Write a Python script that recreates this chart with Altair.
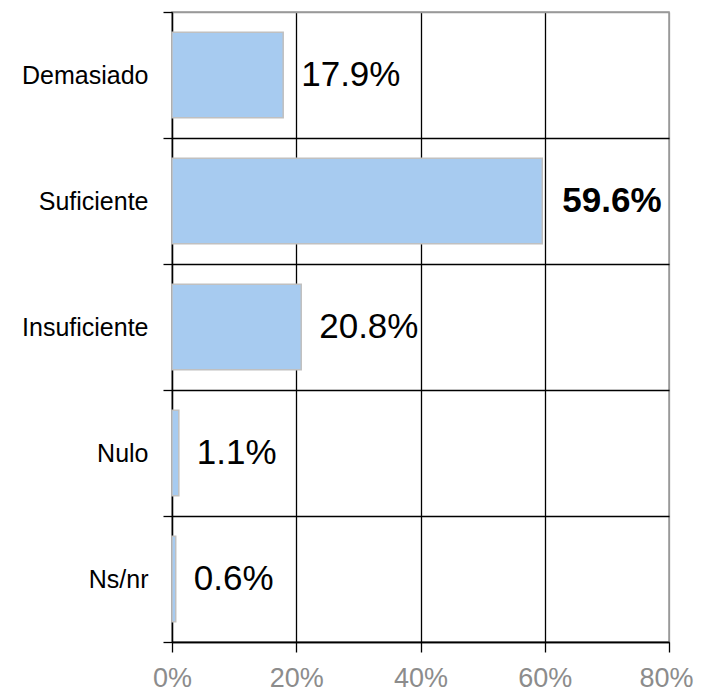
import altair as alt
import pandas as pd

categories = ["Demasiado", "Suficiente", "Insuficiente", "Nulo", "Ns/nr"]
values = [0.179, 0.596, 0.208, 0.011, 0.006]
x_ticks = [0, 0.2, 0.4, 0.6, 0.8]

df = pd.DataFrame({"cat": categories, "val": values})
max_val = max(values)

FONT = "Liberation Sans"

y_enc = alt.Y(
    "cat:N",
    sort=categories,
    title=None,
    scale=alt.Scale(paddingInner=0, paddingOuter=0),
    axis=alt.Axis(
        tickBand="extent",
        grid=True,
        gridColor={"condition": {"test": "datum.index < 0 || datum.extra", "value": "#999999"}, "value": "black"},
        gridWidth=1.3,
        domainColor="black",
        domainWidth=1.3,
        tickColor="black",
        tickWidth=1.3,
        tickSize=9,
        labelFont=FONT,
        labelFontSize=25,
        labelColor="black",
        labelPadding=15,
    ),
)

x_enc = alt.X(
    "val:Q",
    title=None,
    scale=alt.Scale(domain=[0, 0.8], nice=False),
    axis=alt.Axis(
        values=x_ticks,
        format=".0%",
        grid=True,
        gridColor={"condition": {"test": "datum.value > 0.79", "value": "#999999"}, "value": "black"},
        gridWidth=1.3,
        domainColor="black",
        domainWidth=1.3,
        tickColor="black",
        tickWidth=1.3,
        tickSize=10,
        labelFont=FONT,
        labelFontSize=27,
        labelColor="#8c8c8c",
        labelPadding=13,
        labelOffset={"condition": {"test": "datum.value > 0.79", "value": -3}, "value": 0},
        labelFlush=False,
        labelOverlap=False,
    ),
)

base = alt.Chart(df)

bars = base.mark_bar(
    height=alt.RelativeBandSize(0.68),
    color="#A7CBF0",
    stroke="#C0C0C0",
    strokeWidth=1.5,
).encode(x=x_enc, y=y_enc)

labels_normal = base.transform_filter(
    alt.datum.val < max_val
).mark_text(
    align="left", baseline="middle", dx=18, font=FONT, fontSize=35, color="black"
).encode(x="val:Q", y=alt.Y("cat:N", sort=categories), text=alt.Text("val:Q", format=".1%"))

labels_bold = base.transform_filter(
    alt.datum.val >= max_val
).mark_text(
    align="left", baseline="middle", dx=20, font=FONT, fontSize=35, fontWeight="bold", color="black"
).encode(x="val:Q", y=alt.Y("cat:N", sort=categories), text=alt.Text("val:Q", format=".1%"))

chart = alt.layer(bars, labels_normal, labels_bold).properties(
    width=497,
    height=630,
    autosize=alt.AutoSizeParams(type="none"),
    padding={"left": 164, "top": 4, "right": 26, "bottom": 54},
    background="white",
).configure_view(
    stroke="#999999",
    strokeWidth=1.5,
)

chart.save("out.html", embed_options={"renderer": "svg", "actions": False})
